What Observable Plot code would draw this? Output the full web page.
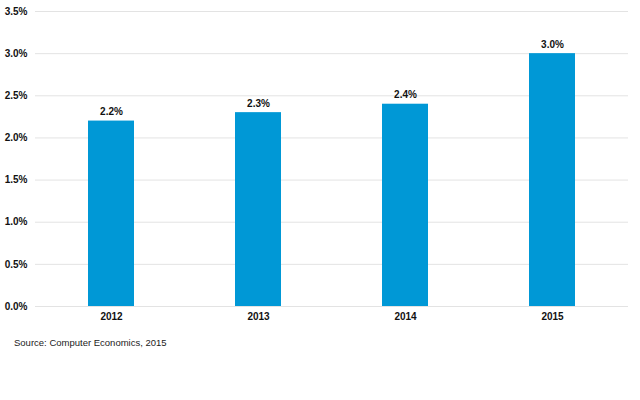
<!DOCTYPE html>
<html><head><meta charset="utf-8">
<script src="https://cdn.jsdelivr.net/npm/d3@7"></script>
<script src="https://cdn.jsdelivr.net/npm/@observablehq/plot@0.6"></script>
<style>
body{margin:0;background:#fff;font-family:"Liberation Sans",Arial,sans-serif;}
#cap{font-size:9.5px;color:#222;margin:12px 0 0 14px;}
</style>
</head><body>
<div id="chart"></div>
<div id="cap">Source: Computer Economics, 2015</div>
<script>
const years = ["2012","2013","2014","2015"];
const values = [0.022,0.023,0.024,0.030];
const yTicks = [0,0.005,0.01,0.015,0.02,0.025,0.03,0.035];
const data = years.map((y,i)=>({year:y,value:values[i]}));
const fmt = d3.format(".1%");
const plot = Plot.plot({
  width:640, height:325,
  marginTop:11, marginBottom:19, marginLeft:35, marginRight:12,
  style:{fontFamily:"Liberation Sans, Arial, sans-serif", fontSize:"10px", fontWeight:"bold", color:"#111"},
  x:{domain:years, paddingInner:0.69, paddingOuter:0.35, label:null, tickSize:0, tickPadding:6},
  y:{domain:[0,0.035], ticks:yTicks, tickFormat:fmt, label:null, tickSize:0, tickPadding:8},
  marks:[
    Plot.gridY(yTicks,{stroke:"#e3e3e3", strokeOpacity:1}),
    Plot.barY(data,{x:"year", y:"value", fill:"#0098d6"}),
    Plot.text(data,{x:"year", y:"value", text:d=>fmt(d.value), dy:-9, fontWeight:"bold", fontSize:10, fill:"#111"})
  ]
});
document.getElementById("chart").appendChild(plot);
</script>
</body></html>
